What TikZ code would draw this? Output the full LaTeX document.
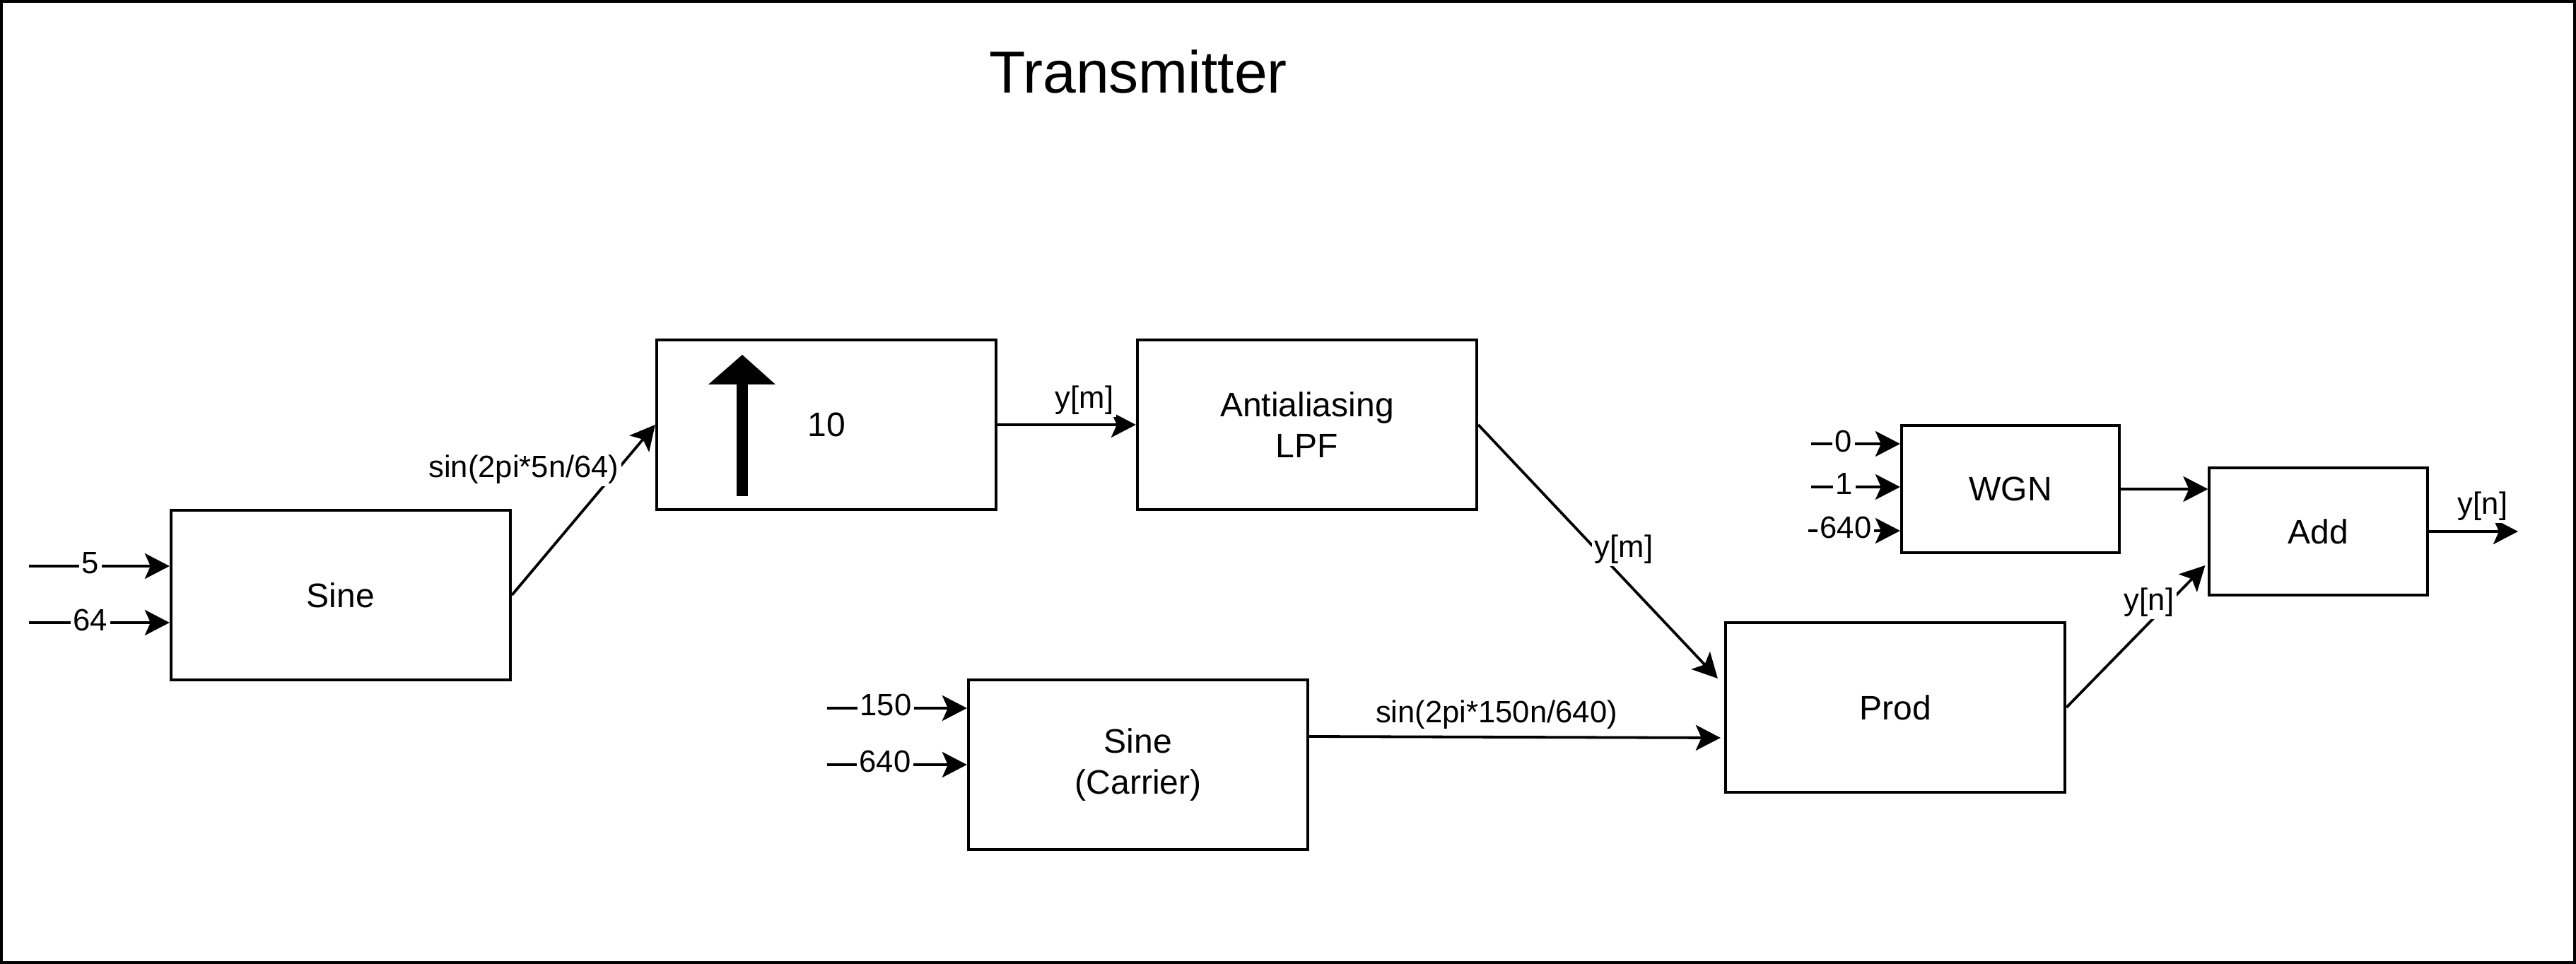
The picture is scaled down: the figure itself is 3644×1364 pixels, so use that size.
\documentclass[tikz,border=0pt]{standalone}
\usepackage{fontspec}
\setmainfont{Liberation Sans}
\usetikzlibrary{arrows.meta}
\begin{document}
\begin{tikzpicture}[x=0.01cm,y=-0.01cm,
  blk/.style={draw,line width=0.04cm,minimum width=4.8cm,minimum height=2.4cm,inner sep=0pt,align=center,font=\fontsize{13.66pt}{16.5pt}\selectfont},
  sblk/.style={blk,minimum width=3.08cm,minimum height=1.8cm},
  arr/.style={line width=0.038cm,-{Stealth[length=0.35cm,width=0.36cm,inset=0.08cm]}},
  lbl/.style={fill=white,inner sep=1pt,font=\fontsize{12.4pt}{14pt}\selectfont},
]
\useasboundingbox (0,0) rectangle (3644,1364);
\draw[line width=0.04cm] (2,2) rectangle (3642,1362);

\node[anchor=base,font=\fontsize{23.9pt}{28pt}\selectfont] (title) at (1610,132) {Transmitter};

\node[blk] (sine) at (482,842) {Sine};
\node[blk] (up) at (1169,601) {10};
\node[blk] (lpf) at (1849,601) {Antialiasing\\LPF};
\node[blk] (car) at (1610,1082) {Sine\\(Carrier)};
\node[blk] (prod) at (2681,1001) {Prod};
\node[sblk] (wgn) at (2844,692) {WGN};
\node[sblk] (add) at (3279.5,752) {Add};

% upsampling symbol
\fill (1042,544) rectangle (1058,702);
\fill (1002,544) -- (1097,544) -- (1050,502) -- cycle;

\coordinate (i5) at (41,801);
\coordinate (i64) at (41,881);
\coordinate (i150) at (1170,1002);
\coordinate (i640a) at (1170,1082);
\coordinate (i0) at (2562,628);
\coordinate (i1) at (2562,689);
\coordinate (i640b) at (2558,751);
\coordinate (out) at (3562,752);

\draw[arr] (i5) -- (i5 -| sine.west);
\draw[arr] (i64) -- (i64 -| sine.west);
\draw[arr] (i150) -- (i150 -| car.west);
\draw[arr] (i640a) -- (i640a -| car.west);
\draw[arr] (i0) -- (i0 -| wgn.west);
\draw[arr] (i1) -- (i1 -| wgn.west);
\draw[arr] (i640b) -- (i640b -| wgn.west);

\draw[arr] (sine.east) -- (up.west);
\draw[arr] (up.east) -- (lpf.west);
\draw[arr] (lpf.east) -- ([shift={(-9,-41)}]prod.west);
\draw[arr] ([shift={(0,-40)}]car.east) -- ([shift={(-5,43)}]prod.west);
\draw[arr] (prod.east) -- ([shift={(-4,48)}]add.west);
\draw[arr] (wgn.east) -- (wgn.east -| add.west);
\draw[arr] (add.east) -- (out);

\node[lbl] (l5) at (128,797) {5};
\node[lbl] (l64) at (128,877) {64};
\node[lbl] (l150) at (1253,997) {150};
\node[lbl] (l640a) at (1252,1077) {640};
\node[lbl] (l0) at (2608,624) {0};
\node[lbl] (l1) at (2609,684) {1};
\node[lbl] (l640b) at (2611,746) {640};

\node[lbl] (ls1) at (741,664) {sin(2pi*5n/64)};
\node[lbl] (lym1) at (1534,566) {y[m]};
\node[lbl] (lym2) at (2297,777) {y[m]};
\node[lbl] (ls2) at (2117,1011) {sin(2pi*150n/640)};
\node[lbl] (lyn1) at (3040,852) {y[n]};
\node[lbl] (lyn2) at (3512,716) {y[n]};
\end{tikzpicture}
\end{document}
